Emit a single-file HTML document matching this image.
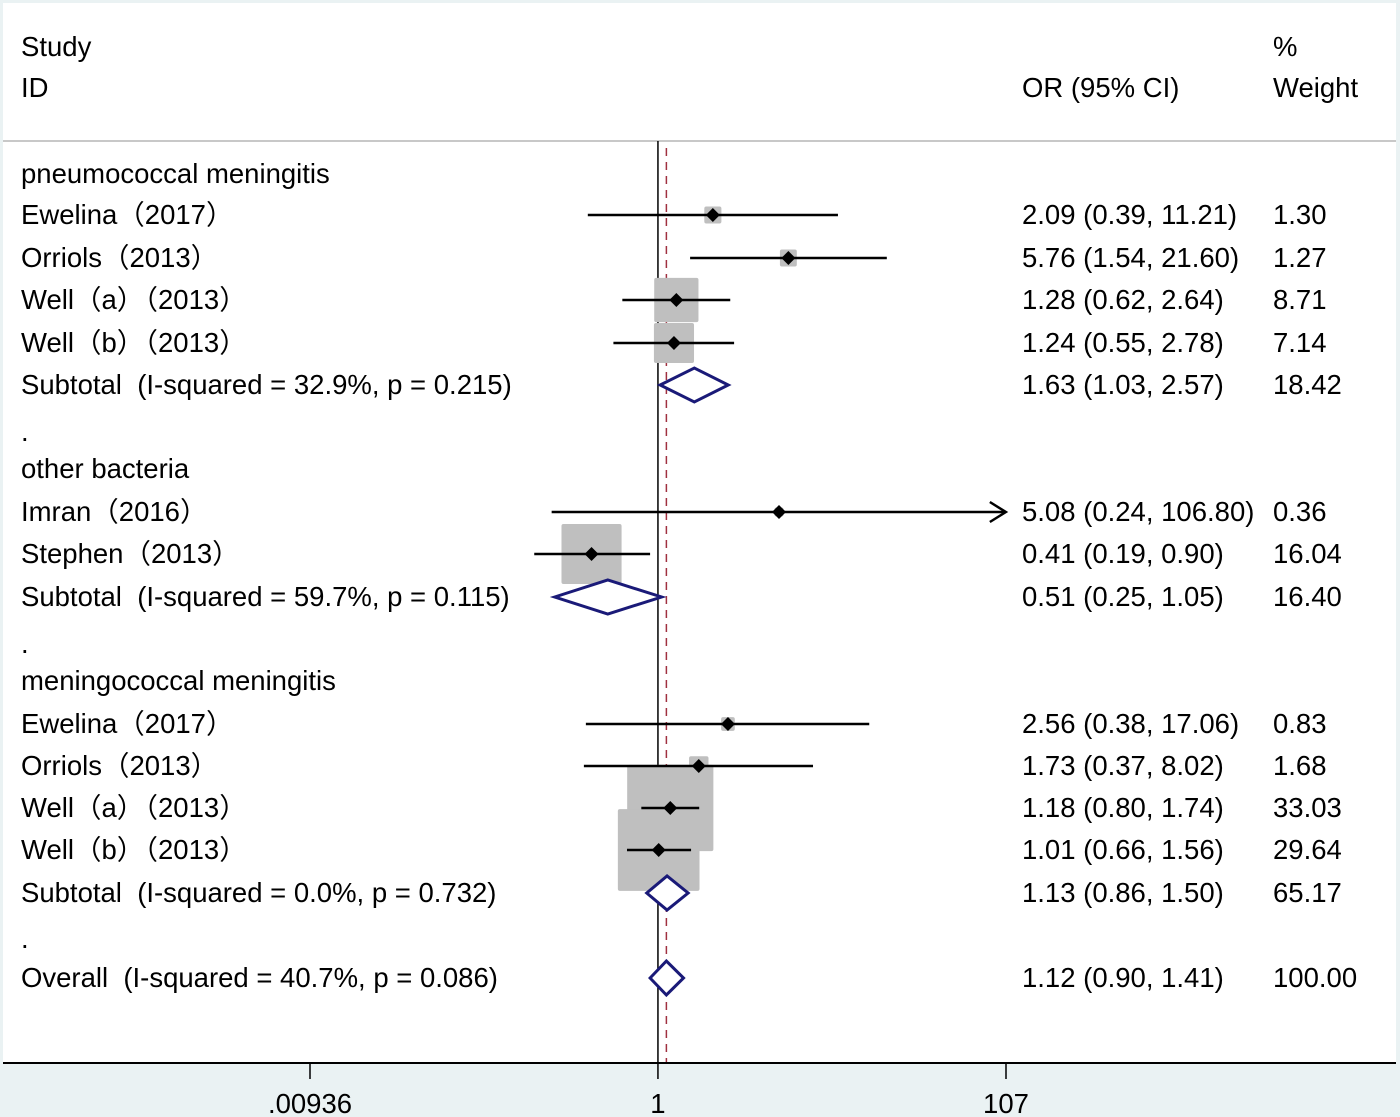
<!DOCTYPE html>
<html><head><meta charset="utf-8"><style>
html,body{margin:0;padding:0;background:#eaf2f3;}
svg{display:block;font-family:"Liberation Sans","Noto Sans CJK SC",sans-serif;}
text{white-space:pre;}
</style></head><body>
<svg id="chart" width="1400" height="1117" viewBox="0 0 1400 1117">
<rect x="3" y="3" width="1393" height="1060" fill="#ffffff"/>
<line x1="3" y1="141" x2="1396" y2="141" stroke="#c8c8c8" stroke-width="2"/>
<text x="21" y="56" font-size="27.5">Study</text>
<text x="21" y="97" font-size="27.5">ID</text>
<text x="1022" y="97" font-size="27.5">OR (95% CI)</text>
<text x="1273" y="56" font-size="27.5">%</text>
<text x="1273" y="97" font-size="27.5">Weight</text>
<g id="refs"></g>
<g id="rows"></g>
<g id="axis"></g>
</svg>
<script>
const labels = ["pneumococcal meningitis","Ewelina（2017）","Orriols（2013）","Well（a）（2013）","Well（b）（2013）","Subtotal  (I-squared = 32.9%, p = 0.215)",".","other bacteria","Imran（2016）","Stephen（2013）","Subtotal  (I-squared = 59.7%, p = 0.115)",".","meningococcal meningitis","Ewelina（2017）","Orriols（2013）","Well（a）（2013）","Well（b）（2013）","Subtotal  (I-squared = 0.0%, p = 0.732)",".","Overall  (I-squared = 40.7%, p = 0.086)"];
const kinds = ["h","s","s","s","s","d","x","h","s","s","d","x","h","s","s","s","s","d","x","d"];
const orVals = [null,2.09,5.76,1.28,1.24,1.63,null,null,5.08,0.41,0.51,null,null,2.56,1.73,1.18,1.01,1.13,null,1.12];
const lowVals = [null,0.39,1.54,0.62,0.55,1.03,null,null,0.24,0.19,0.25,null,null,0.38,0.37,0.80,0.66,0.86,null,0.90];
const highVals = [null,11.21,21.60,2.64,2.78,2.57,null,null,106.80,0.90,1.05,null,null,17.06,8.02,1.74,1.56,1.50,null,1.41];
const weights = [null,1.30,1.27,8.71,7.14,18.42,null,null,0.36,16.04,16.40,null,null,0.83,1.68,33.03,29.64,65.17,null,100.00];
const orText = ["","2.09 (0.39, 11.21)","5.76 (1.54, 21.60)","1.28 (0.62, 2.64)","1.24 (0.55, 2.78)","1.63 (1.03, 2.57)","","","5.08 (0.24, 106.80)","0.41 (0.19, 0.90)","0.51 (0.25, 1.05)","","","2.56 (0.38, 17.06)","1.73 (0.37, 8.02)","1.18 (0.80, 1.74)","1.01 (0.66, 1.56)","1.13 (0.86, 1.50)","","1.12 (0.90, 1.41)"];
const wText = ["","1.30","1.27","8.71","7.14","18.42","","","0.36","16.04","16.40","","","0.83","1.68","33.03","29.64","65.17","","100.00"];
const rowY = [174,215,258,300,343,385,432,469,512,554,597,644,681,724,766,808,850,893,939,978];
const tickVals = [0.00936,1,107];
const tickLabels = [".00936","1","107"];
const overallOR = 1.12;

const NS="http://www.w3.org/2000/svg";
const xMin=Math.log10(0.00936), xMax=Math.log10(107);
function xs(v){ v=Math.max(0.00936,Math.min(107,v)); return 310+(Math.log10(v)-xMin)/(xMax-xMin)*696; }
function mk(tag,attrs,parent){const e=document.createElementNS(NS,tag);for(const k in attrs)e.setAttribute(k,attrs[k]);parent.appendChild(e);return e;}
const refs=document.getElementById('refs'), rows=document.getElementById('rows'), axis=document.getElementById('axis');

let l=mk('line',{x1:xs(1),y1:141,x2:xs(1),y2:1063,stroke:'#000','stroke-width':1.5},refs);


l=mk('line',{x1:xs(overallOR),y1:148,x2:xs(overallOR),y2:1063,stroke:'#a03040','stroke-width':1.5,'stroke-dasharray':'8,6'},refs);



const boxG=mk('g',{},rows);
const lineG=mk('g',{},rows);
for(let i=0;i<labels.length;i++){
  const y=rowY[i];
  const t=mk('text',{x:21,y:y+9,'font-size':27.5},rows);
  t.textContent=labels[i];
  
  
  if(orText[i]){
    const a=mk('text',{x:1022,y:y+9,'font-size':27.5},rows);a.textContent=orText[i];
    
    
    const b=mk('text',{x:1273,y:y+9,'font-size':27.5},rows);b.textContent=wText[i];
    
    
  }
  if(kinds[i]==='s'){
    const s=15*Math.sqrt(weights[i]), cx=xs(orVals[i]);
    const r=mk('rect',{x:cx-s/2,y:y-s/2,width:s,height:s,fill:'#bfbfbf',rx:2},boxG);
    
    
    const x1=xs(lowVals[i]), x2=xs(highVals[i]);
    const c=mk('line',{x1:x1,y1:y,x2:x2,y2:y,stroke:'#000','stroke-width':2.5},lineG);
    
    
    if(highVals[i]>100){
      const ar=mk('path',{d:`M${x2-16},${y-10} L${x2},${y} L${x2-16},${y+10}`,fill:'none',stroke:'#000','stroke-width':2.5},lineG);
      
      
    }
    const d=mk('path',{d:`M${cx-7},${y} L${cx},${y-7} L${cx+7},${y} L${cx},${y+7} Z`,fill:'#000'},lineG);
    
    
  } else if(kinds[i]==='d'){
    const a=xs(lowVals[i]), c=xs(orVals[i]), b=xs(highVals[i]);
    const d=mk('path',{d:`M${a},${y} L${c},${y-17} L${b},${y} L${c},${y+17} Z`,fill:'#fff',stroke:'#1a1a78','stroke-width':3},lineG);
    
    
  }
}
let ax=mk('line',{x1:3,y1:1063,x2:1396,y2:1063,stroke:'#000','stroke-width':2},axis);


for(let i=0;i<tickVals.length;i++){
  const x=xs(tickVals[i]);
  const tk=mk('line',{x1:x,y1:1063,x2:x,y2:1079,stroke:'#000','stroke-width':1.5},axis);
  
  
  const tl=mk('text',{x:x,y:1113,'font-size':27.5,'text-anchor':'middle'},axis);
  tl.textContent=tickLabels[i];
  
  
}
</script>
</body></html>
